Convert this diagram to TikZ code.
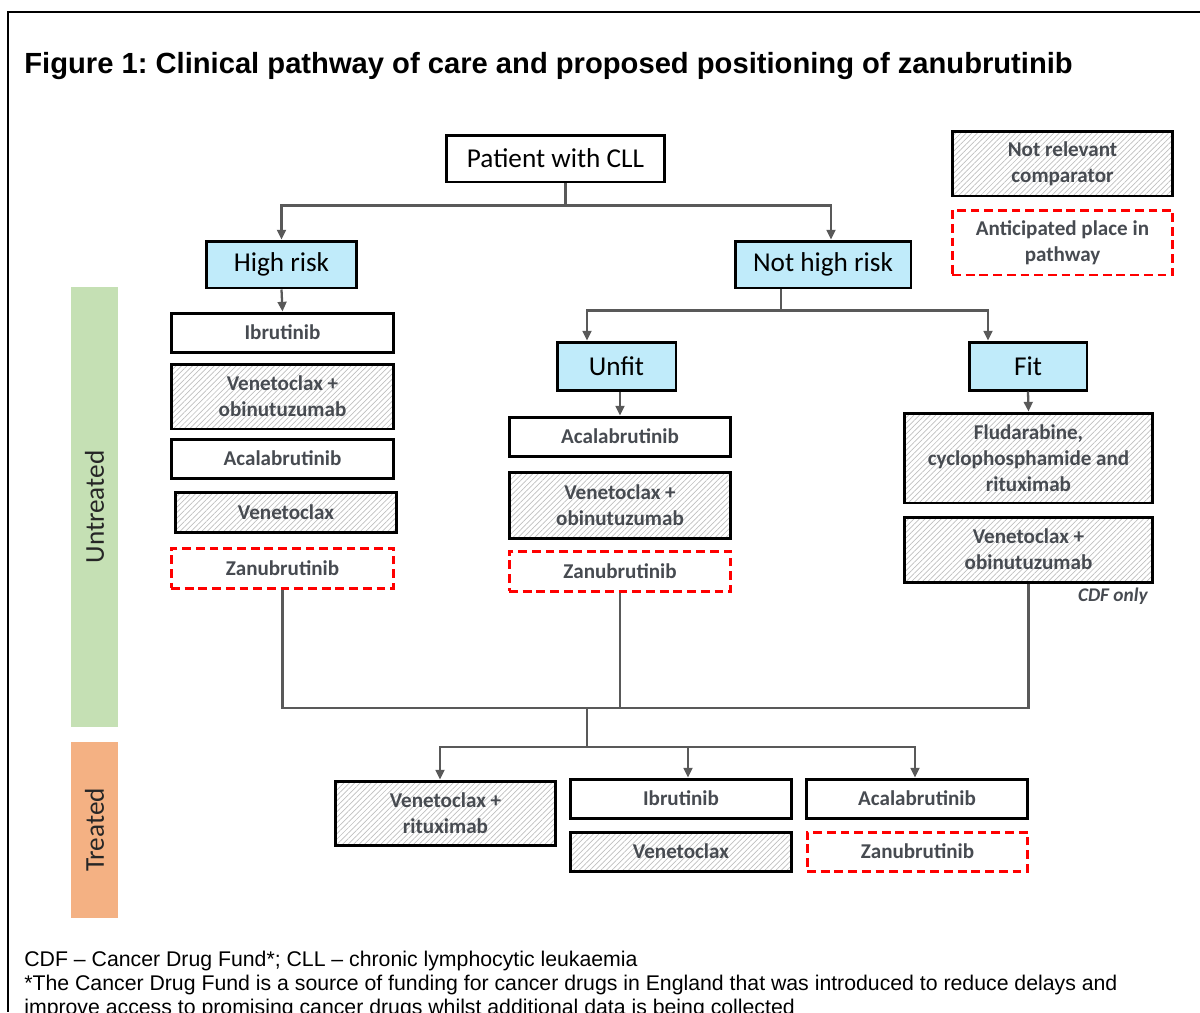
\documentclass[tikz,border=0pt]{standalone}
\usepackage{fontspec}
\setmainfont{Liberation Sans}
\newfontfamily\calibri{Carlito}
\usetikzlibrary{arrows.meta,patterns.meta}
\frenchspacing
\definecolor{riskblue}{HTML}{C0EBFA}
\definecolor{drugtext}{HTML}{474B51}
\definecolor{linkgray}{HTML}{595959}
\definecolor{untreatedgreen}{HTML}{C5E0B4}
\definecolor{treatedorange}{HTML}{F4B183}

\begin{document}
\begin{tikzpicture}[x=0.02cm,y=-0.02cm,
    group/.style={draw=black,line width=1.7pt,inner sep=0pt,
        font=\calibri\fontsize{15.5}{18}\selectfont},
    risk/.style={group,fill=riskblue},
    drug/.style={draw=black,line width=1.7pt,inner sep=0pt,align=center,text=drugtext,
        font=\calibri\bfseries\fontsize{12}{14.7}\selectfont},
    comp/.style={drug,pattern={Lines[angle=45,distance=2.2pt,line width=0.4pt]},pattern color=gray!50},
    newplace/.style={drug,draw=red,dash pattern=on 5pt off 2.8pt},
    stage/.style={rotate=90,inner sep=0pt,minimum height=0.94cm,text=black!85,
        font=\calibri\fontsize{15.5}{18}\selectfont},
    link/.style={draw=linkgray,line width=1.3pt},
    arr/.style={link,-{Triangle[length=5.5pt,width=5pt]}},
    note/.style={anchor=base west,inner sep=0pt,font=\fontsize{12.1}{14}\selectfont}
]
\useasboundingbox (0,0) rectangle (1200,1012);
\draw[line width=1.2pt] (1200,12) -- (8,12) -- (8,1012);

\node[anchor=base west,inner sep=0pt,font=\bfseries\fontsize{16.6}{20}\selectfont] (title) at (24,73)
    {Figure 1: Clinical pathway of care and proposed positioning of zanubrutinib};

% key
\node[comp,minimum width=4.42cm,minimum height=1.3cm] (keycomp) at (1062.5,163.5) {Not relevant\\comparator};
\node[newplace,minimum width=4.42cm,minimum height=1.3cm] (keynew) at (1062.5,242.5) {Anticipated place in\\pathway};

% stage bars
\node[stage,fill=untreatedgreen,minimum width=8.8cm] (untreated) at (94.5,507) {Untreated};
\node[stage,fill=treatedorange,minimum width=3.52cm] (treated) at (94.5,830) {Treated};

% decision boxes
\node[group,minimum width=4.38cm,minimum height=0.94cm] (pat) at (555.5,158.5) {Patient with CLL};
\node[risk,minimum width=3.02cm,minimum height=0.94cm] (hr) at (281.5,264.5) {High risk};
\node[risk,minimum width=3.52cm,minimum height=0.94cm] (nhr) at (823,264.5) {Not high risk};
\node[risk,minimum width=2.38cm,minimum height=0.96cm] (unfit) at (616.5,366) {Unfit};
\node[risk,minimum width=2.36cm,minimum height=0.96cm] (fit) at (1028,366) {Fit};

% high risk column
\node[drug,minimum width=4.46cm,minimum height=0.78cm] (l1) at (282.5,332.5) {Ibrutinib};
\node[comp,minimum width=4.46cm,minimum height=1.3cm] (l2) at (282.5,396.5) {Venetoclax +\\obinutuzumab};
\node[drug,minimum width=4.46cm,minimum height=0.78cm] (l3) at (282.5,458.5) {Acalabrutinib};
\node[comp,minimum width=4.44cm,minimum height=0.8cm] (l4) at (286,512) {Venetoclax};
\node[newplace,minimum width=4.46cm,minimum height=0.8cm] (l5) at (282.5,568) {Zanubrutinib};

% unfit column
\node[drug,minimum width=4.44cm,minimum height=0.78cm] (m1) at (620,436.5) {Acalabrutinib};
\node[comp,minimum width=4.44cm,minimum height=1.32cm] (m2) at (620,505) {Venetoclax +\\obinutuzumab};
\node[newplace,minimum width=4.44cm,minimum height=0.8cm] (m3) at (620,571) {Zanubrutinib};

% fit column
\node[comp,minimum width=4.98cm,minimum height=1.8cm] (r1) at (1028.5,458) {Fludarabine,\\cyclophosphamide and\\rituximab};
\node[comp,minimum width=4.98cm,minimum height=1.3cm] (r2) at (1028.5,549.5) {Venetoclax +\\obinutuzumab};
\node[anchor=base east,inner sep=0pt,text=drugtext,
    font=\calibri\bfseries\itshape\fontsize{11}{13}\selectfont] (cdf) at (1148,601) {CDF only};

% treated row
\node[comp,minimum width=4.42cm,minimum height=1.28cm] (b1) at (445.5,813) {Venetoclax +\\rituximab};
\node[drug,minimum width=4.44cm,minimum height=0.78cm] (b2) at (681,798.5) {Ibrutinib};
\node[comp,minimum width=4.44cm,minimum height=0.78cm] (b3) at (681,851.5) {Venetoclax};
\node[drug,minimum width=4.44cm,minimum height=0.78cm] (b4) at (917,798.5) {Acalabrutinib};
\node[newplace,minimum width=4.42cm,minimum height=0.78cm] (b5) at (917.5,851.5) {Zanubrutinib};

% branches
\draw[arr] ([xshift=0.2cm]pat.south) -- ++(0,22) -| (hr.north);
\draw[arr] ([xshift=0.2cm]pat.south) -- ++(0,22) -| ([xshift=0.16cm]nhr.north);
\draw[arr] (hr.south) -- (l1.north);
\draw[arr] ([xshift=-0.84cm]nhr.south) -- ++(0,21) -| ([xshift=-0.59cm]unfit.north);
\draw[arr] ([xshift=-0.84cm]nhr.south) -- ++(0,21) -| ([xshift=-0.8cm]fit.north);
\draw[arr] (unfit.south -| m1.north) -- (m1.north);
\draw[arr] (fit.south) -- (r1.north);

% merge into treated
\coordinate (merge) at (587,708);
\coordinate (fork) at (587,747);
\draw[link] (l5.south) |- (m3.south |- merge);
\draw[link] (m3.south) -- (m3.south |- merge);
\draw[link] (r2.south) |- ([xshift=0.5cm]merge);
\draw[link] (merge) -- (fork);
\draw[arr] (fork) -| ([xshift=-0.11cm]b1.north);
\draw[arr] (fork) -| ([xshift=0.14cm]b2.north);
\draw[arr] (fork) -| ([xshift=-0.04cm]b4.north);

% notes
\node[note] (note1) at (24,966) {CDF – Cancer Drug Fund*; CLL – chronic lymphocytic leukaemia};
\node[note] (note2) at (24,990) {*The Cancer Drug Fund is a source of funding for cancer drugs in England that was introduced to reduce delays and};
\node[note] (note3) at (24,1014) {improve access to promising cancer drugs whilst additional data is being collected};
\end{tikzpicture}
\end{document}
